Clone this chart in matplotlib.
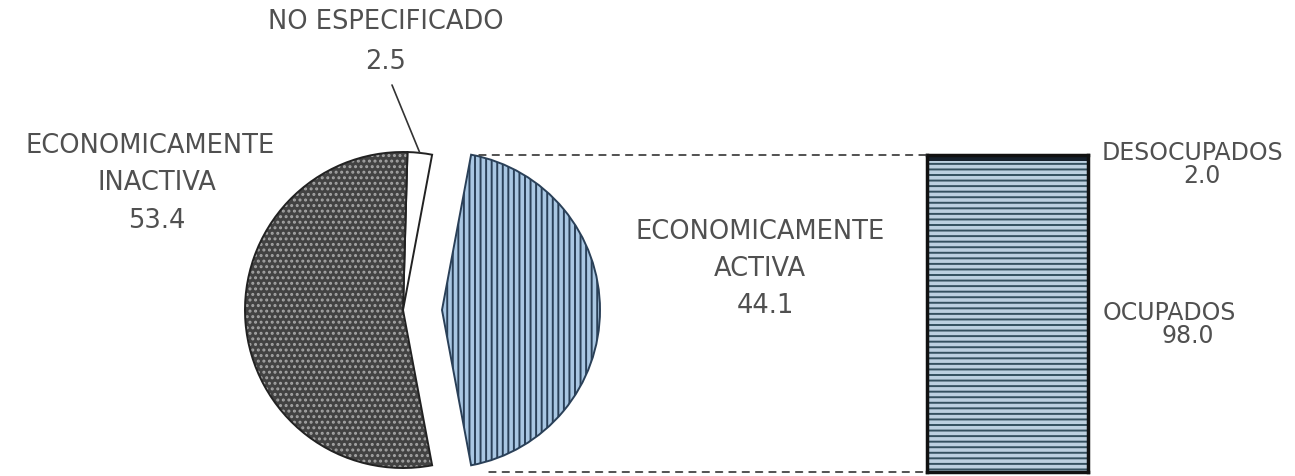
import numpy as np
import matplotlib
matplotlib.use("Agg")
import matplotlib.pyplot as plt
import matplotlib.patches as mpatches
import matplotlib.transforms as mtransforms
from matplotlib.patches import ConnectionPatch

# Population aged 12+ by economic condition (%)
pie_names = ["ECONOMICAMENTE ACTIVA", "NO ESPECIFICADO", "ECONOMICAMENTE INACTIVA"]
pie_values = [44.1, 2.5, 53.4]

# Economically active population by occupation status (%)
bar_names = ["OCUPADOS", "DESOCUPADOS"]
bar_values = [98.0, 2.0]

plt.rcParams["font.family"] = ["DejaVu Sans"]
plt.rcParams["hatch.linewidth"] = 1.4

TXT = "#505050"
DARK = "#222222"

fig = plt.figure(figsize=(12.95, 4.76), dpi=100)
ax = fig.add_axes([0, 0, 1, 1])

# pie: active slice centred on 0 deg and pulled out to the right
start = -pie_values[0] / 100 * 180
wedges, _ = ax.pie(pie_values, startangle=start, counterclock=True,
                   center=(403, 166), radius=158, explode=[39, 0, 0],
                   wedgeprops=dict(linewidth=1.4))

active, unspec, inactive = wedges
active.set_facecolor("#a9c7e3")
active.set_edgecolor("#2a4058")
active.set_hatch("|||")

unspec.set_facecolor("white")
unspec.set_edgecolor(DARK)

inactive.set_facecolor("#424242")
inactive.set_edgecolor("#a4a4a4")
inactive.set_hatch("...")
inactive.set_linewidth(0)
ax.add_patch(mpatches.Wedge(inactive.center, inactive.r, inactive.theta1,
                            inactive.theta2, fill=False, edgecolor=DARK, lw=1.4))

ax.set_xlim(0, 1295)
ax.set_ylim(0, 476)
ax.set_aspect("equal")
ax.axis("off")

# stacked bar for the active population
bax = fig.add_axes([927 / 1295, 4 / 476, 161 / 1295, 317 / 476])
bax.bar(0, bar_values[0], width=1, color="#bcd0e0", edgecolor="#34505f",
        hatch="---", linewidth=0)
bax.bar(0, bar_values[1], bottom=bar_values[0], width=1, color="#15202c",
        linewidth=0)
bax.set_xlim(-0.5, 0.5)
bax.set_ylim(0, 100)
bax.set_xticks([])
bax.set_yticks([])
for s in bax.spines.values():
    s.set_linewidth(2.5)
    s.set_color("#111111")

# dashed connectors from the active slice to the bar edges
cx, cy = active.center
r = active.r
x_top = cx + r * np.cos(np.radians(active.theta2))
x_bot = cx + r * np.cos(np.radians(active.theta1))
blend = mtransforms.blended_transform_factory(ax.transData, bax.transAxes)
for xa, yb in [(x_top + 8, 1), (x_bot + 18, 0)]:
    con = ConnectionPatch(xyA=(xa, yb), coordsA=blend,
                          xyB=(0, yb), coordsB=bax.transAxes,
                          linestyle=(0, (4, 4)), color="#333333", lw=1.2)
    fig.add_artist(con)

# leader line for the small slice
th = np.radians((unspec.theta1 + unspec.theta2) / 2)
ux, uy = unspec.center
ax.annotate("", xy=(ux + unspec.r * np.cos(th), uy + unspec.r * np.sin(th)),
            xytext=(392, 391),
            arrowprops=dict(arrowstyle="-", color="#333333", lw=1.2,
                            shrinkA=0, shrinkB=0))

fs = 18.5
kw = dict(ha="center", va="center", color=TXT, fontsize=fs)
ax.text(386, 454, "NO ESPECIFICADO", **kw)
ax.text(386, 414, f"{pie_values[1]:.1f}", **kw)

ax.text(150, 330, "ECONOMICAMENTE", **kw)
ax.text(157, 293, "INACTIVA", **kw)
ax.text(157, 255, f"{pie_values[2]:.1f}", **kw)

ax.text(760, 244, "ECONOMICAMENTE", **kw)
ax.text(760, 207, "ACTIVA", **kw)
ax.text(765, 170, f"{pie_values[0]:.1f}", **kw)

kw2 = dict(ha="center", va="center", color=TXT, fontsize=17)
ax.text(1192, 323, bar_names[1], **kw2)
ax.text(1202, 300, f"{bar_values[1]:.1f}", **kw2)
ax.text(1169, 163, bar_names[0], **kw2)
ax.text(1188, 140, f"{bar_values[0]:.1f}", **kw2)

fig.savefig("out.png", dpi=100)
